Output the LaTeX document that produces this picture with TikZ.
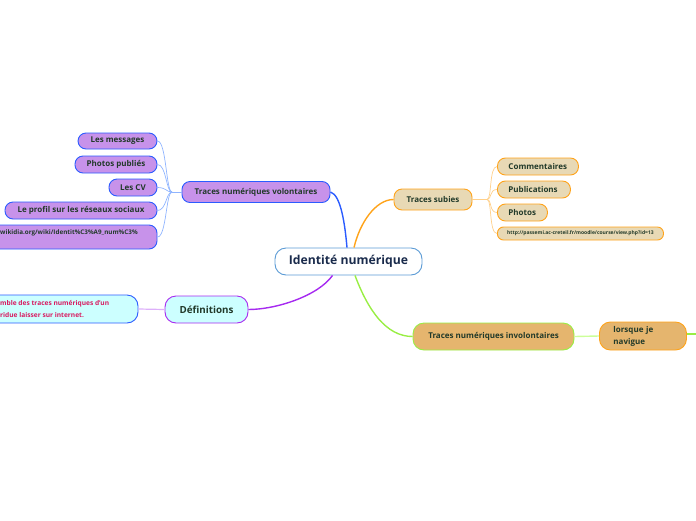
\documentclass[tikz,border=0pt]{standalone}
\usepackage{fontspec}
\setmainfont{Open Sans}
\definecolor{cnav}{HTML}{1A2B4C}
\definecolor{ctxt}{HTML}{223A2A}
\definecolor{cblue}{HTML}{5B9BD5}
\definecolor{volfill}{HTML}{C792EA}
\definecolor{volbord}{HTML}{2B5CFF}
\definecolor{lblue}{HTML}{8FB4FF}
\definecolor{tanfill}{HTML}{E8D9B5}
\definecolor{orangeb}{HTML}{FFA31A}
\definecolor{lorange}{HTML}{FFD08A}
\definecolor{cyanfill}{HTML}{CCFFFF}
\definecolor{purpb}{HTML}{A62AF0}
\definecolor{lpurp}{HTML}{DDB0FA}
\definecolor{crim}{HTML}{D81B60}
\definecolor{sandfill}{HTML}{E5B56E}
\definecolor{greenb}{HTML}{99EE44}
\definecolor{lgreen}{HTML}{CCFF99}
\tikzset{
  box/.style={draw, rounded corners=8pt, inner sep=0pt, font=\bfseries\fontsize{8}{9}\selectfont, text=ctxt, line width=0.9pt},
  volbox/.style={box, fill=volfill, draw=volbord},
  subbox/.style={box, fill=tanfill, draw=orangeb},
  main/.style={line width=1.4pt},
  thin/.style={line width=0.7pt}
}
\begin{document}
\begin{tikzpicture}[x=1pt,y=-1pt]
\useasboundingbox (0,0) rectangle (696,520);
% central
\node[box, fill=white, draw=cblue, rounded corners=11pt, minimum width=147pt, minimum height=27pt, text=cnav, font=\bfseries\fontsize{12.2}{14}\selectfont] (c) at (348.5,261.5) {Identité numérique};
% volontaires
\node[volbox, minimum width=148pt, minimum height=21pt] (vol) at (256,192) {Traces numériques volontaires};
\node[volbox, minimum width=79pt, minimum height=16pt] (msg) at (117.5,141) {Les messages};
\node[volbox, minimum width=82pt, minimum height=17pt] (pho) at (116,164.5) {Photos publiés};
\node[volbox, minimum width=48pt, minimum height=17pt] (cv) at (133,187.5) {Les CV};
\node[volbox, minimum width=152pt, minimum height=17pt] (prof) at (81,210.5) {Le profil sur les réseaux sociaux};
\node[volbox, minimum width=200pt, minimum height=24pt] (wiki) at (57,237) {};
\node[anchor=west, inner sep=0pt, font=\bfseries\fontsize{6.3}{7}\selectfont, text=ctxt] (wikit) at (0,233) {wikidia.org/wiki/Identit\%C3\%A9\_num\%C3\%};
\coordinate (jv) at (172,192);
\foreach \n in {msg,pho,cv,prof,wiki}
  \draw[thin, lblue] (\n.east) .. controls +(9,0) and (166,192) .. (jv);
\draw[thin, lblue] (jv) -- (vol.west);
\draw[main, volbord] (vol.east) .. controls (341,195) and (345,225) .. ([xshift=-1.5pt]c.north);
% subies
\node[subbox, minimum width=78pt, minimum height=21pt] (sub) at (433,199.5) {Traces subies};
\node[subbox, anchor=west, text width=59pt, align=left, inner xsep=11pt, minimum height=17pt] (comm) at (497,166.5) {Commentaires};
\node[subbox, anchor=west, text width=51pt, align=left, inner xsep=11pt, minimum height=17pt] (pub) at (497,189.5) {Publications};
\node[subbox, anchor=west, text width=28pt, align=left, inner xsep=11pt, minimum height=17pt] (phot) at (497,212.5) {Photos};
\node[subbox, anchor=west, minimum width=166pt, minimum height=13pt, rounded corners=6pt, font=\bfseries\fontsize{5}{6}\selectfont] (url) at (497,233.5) {http://passemi.ac-creteil.fr/moodle/course/view.php?id=13};
\coordinate (js) at (487,199.5);
\draw[thin, lorange] (sub.east) -- (js);
\foreach \n in {comm,pub,phot,url}
  \draw[thin, lorange] (js) .. controls (492,199.5) and (489,0|-\n.west) .. (\n.west);
\draw[main, orangeb] ([xshift=5.5pt]c.north) .. controls (360,222) and (376,199.5) .. (sub.west);
% definitions
\node[box, fill=cyanfill, draw=purpb, minimum width=83pt, minimum height=27pt, rounded corners=11pt, text=ctxt, font=\bfseries\fontsize{9.8}{11}\selectfont] (def) at (206.5,309.5) {Définitions};
\node[box, fill=cyanfill, draw=volbord, minimum width=200pt, minimum height=28pt, rounded corners=11pt] (defc) at (38,309) {};
\node[anchor=west, inner sep=0pt, align=left, font=\bfseries\fontsize{6.6}{12.5}\selectfont, text=crim] (defct) at (0,309) {mble des traces numériques d'un\\ridue laisser sur internet.};
\draw[lpurp, line width=1.2pt] (defc.east) -- (def.west);
\draw[main, purpb] ([xshift=-16pt]c.south) .. controls (318,296) and (276,309.5) .. (def.east);
% involontaires
\node[box, fill=sandfill, draw=greenb, minimum width=161pt, minimum height=27pt, rounded corners=11pt] (inv) at (493.5,336.5) {Traces numériques involontaires};
\node[box, fill=sandfill, draw=orangeb, anchor=west, text width=59pt, align=left, inner xsep=14pt, minimum height=28pt, rounded corners=11pt, font=\bfseries\fontsize{8}{12}\selectfont] (lors) at (599,336) {lorsque je\\navigue};
\draw[lgreen, line width=1.4pt] (inv.east) -- (lors.west);
\coordinate (lend) at (700,334);
\draw[greenb, line width=1.4pt] (lors.east |- lend) -- (lend);
\draw[main, greenb] ([xshift=6.5pt]c.south) .. controls (368,310) and (386,336.5) .. (inv.west);
\end{tikzpicture}
\end{document}
